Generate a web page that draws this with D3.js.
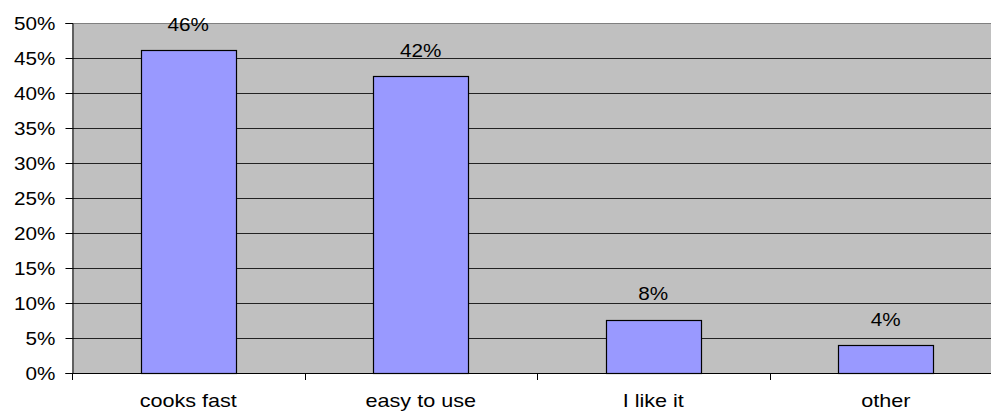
<!DOCTYPE html>
<html>
<head>
<meta charset="utf-8">
<script src="https://cdn.jsdelivr.net/npm/d3@7"></script>
<style>
  html, body { margin: 0; padding: 0; background: #fff; }
  svg { display: block; }
  text { font-family: "Liberation Sans", Arial, sans-serif; fill: #000; }
</style>
</head>
<body>
<svg id="chart" width="991" height="412"></svg>
<script>
// Reasons given, share of answers
const categories = ["cooks fast", "easy to use", "I like it", "other"];
const shares = [0.461, 0.424, 0.076, 0.040];
const yTicks = [0, 0.05, 0.10, 0.15, 0.20, 0.25, 0.30, 0.35, 0.40, 0.45, 0.50];

const svg = d3.select("#chart");
const plot = { left: 72, right: 1002, top: 23, bottom: 373 };
const fontSize = 18, stretch = 1.15;

const x = d3.scaleBand()
  .domain(categories)
  .range([plot.left, plot.right])
  .paddingInner(0.5914)
  .paddingOuter(0.5914 / 2);

const y = d3.scaleLinear()
  .domain([0, 0.5])
  .range([plot.bottom, plot.top]);

const pct = d3.format(".0%");

// plot background
svg.append("rect")
  .attr("x", plot.left).attr("y", plot.top)
  .attr("width", plot.right - plot.left).attr("height", plot.bottom - plot.top)
  .attr("fill", "#c0c0c0");

// horizontal gridlines
svg.append("g")
  .selectAll("line")
  .data(yTicks.filter(d => d > 0))
  .join("line")
  .attr("x1", plot.left).attr("x2", plot.right)
  .attr("y1", d => Math.round(y(d)) + 0.5).attr("y2", d => Math.round(y(d)) + 0.5)
  .attr("stroke", d => d === 0.5 ? "#808080" : "#222")
  .attr("stroke-width", 1);

// bars
svg.append("g")
  .selectAll("rect")
  .data(categories.map((c, i) => ({ c, v: shares[i] })))
  .join("rect")
  .attr("x", d => Math.round(x(d.c)) + 0.5)
  .attr("y", d => Math.round(y(d.v)) + 0.5)
  .attr("width", Math.round(x.bandwidth()))
  .attr("height", d => Math.round(y(0)) - Math.round(y(d.v)))
  .attr("fill", "#9999ff")
  .attr("stroke", "#000")
  .attr("stroke-width", 1.2);

// y axis
const yAxis = d3.axisLeft(y).tickValues(yTicks).tickSize(7).tickFormat(pct);
const gy = svg.append("g")
  .attr("transform", `translate(${plot.left + 0.5},0)`)
  .call(yAxis);
gy.select(".domain").attr("stroke", "#000");
gy.selectAll(".tick line").attr("stroke", "#000");
gy.selectAll(".tick text").remove();
gy.selectAll(".tick").append("g")
  .attr("transform", `translate(-17,0) scale(${stretch},1)`)
  .append("text")
  .attr("text-anchor", "end")
  .attr("dy", "0.35em")
  .attr("font-size", fontSize)
  .text(d => pct(d));

// x axis with ticks on category boundaries
svg.append("line")
  .attr("x1", plot.left).attr("x2", plot.right)
  .attr("y1", plot.bottom + 0.5).attr("y2", plot.bottom + 0.5)
  .attr("stroke", "#000");
const bounds = categories.map(c => x(c) - x.step() * x.paddingInner() / 2);
svg.append("g")
  .selectAll("line")
  .data(bounds)
  .join("line")
  .attr("x1", d => Math.round(d) + 0.5).attr("x2", d => Math.round(d) + 0.5)
  .attr("y1", plot.bottom).attr("y2", plot.bottom + 7)
  .attr("stroke", "#000");

// category labels
svg.append("g")
  .selectAll("g")
  .data(categories)
  .join("g")
  .attr("transform", d => `translate(${x(d) + x.bandwidth() / 2},407) scale(1.2,1)`)
  .append("text")
  .attr("text-anchor", "middle")
  .attr("font-size", fontSize)
  .text(d => d);

// value labels
svg.append("g")
  .selectAll("g")
  .data(categories.map((c, i) => ({ c, v: shares[i] })))
  .join("g")
  .attr("transform", d => `translate(${x(d.c) + x.bandwidth() / 2},${y(d.v) - 19.5}) scale(${stretch},1)`)
  .append("text")
  .attr("text-anchor", "middle")
  .attr("font-size", fontSize)
  .text(d => pct(d.v));
</script>
</body>
</html>
